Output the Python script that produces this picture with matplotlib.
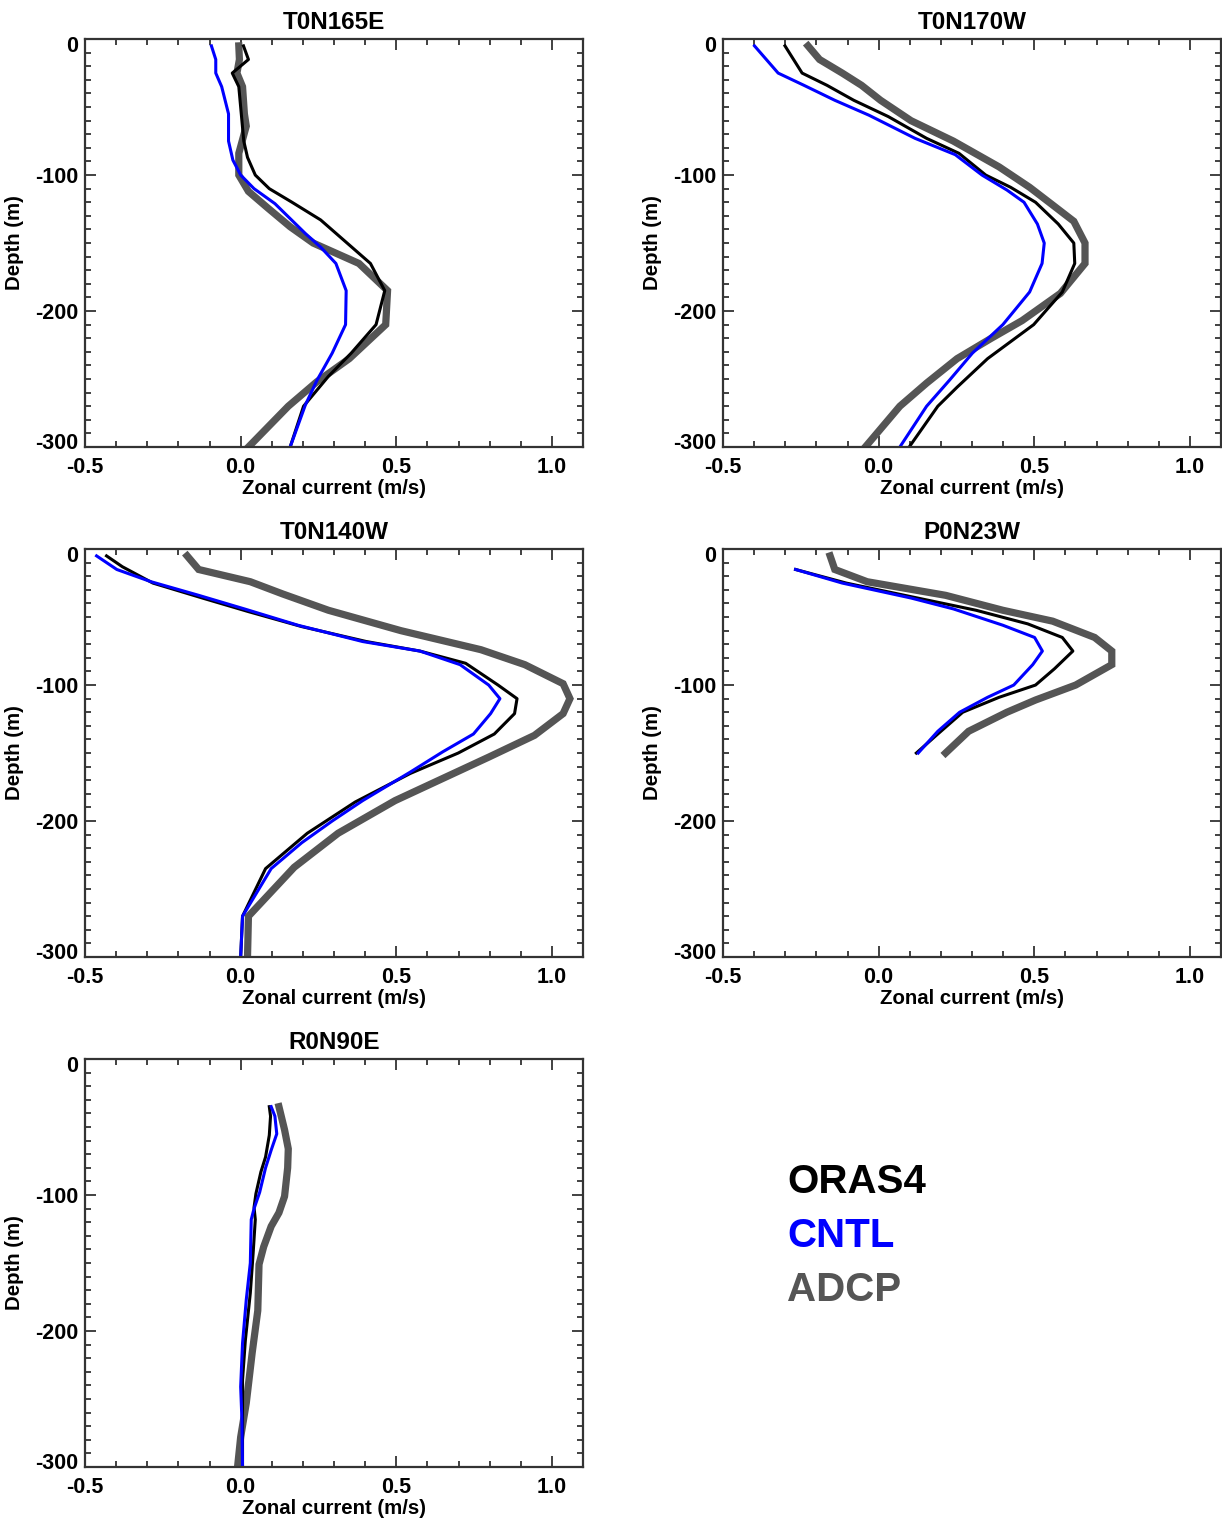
import matplotlib
matplotlib.use("Agg")
import matplotlib.pyplot as plt
import matplotlib.transforms as mtransforms
from matplotlib.ticker import MultipleLocator, FormatStrFormatter

plt.rcParams['font.family'] = ['Liberation Sans', 'DejaVu Sans']
plt.rcParams['font.weight'] = 'bold'
plt.rcParams['axes.unicode_minus'] = False

# ---- data (u in m/s, depth in m) ----
t165e_oras_u = [0.009, 0.025, -0.027, -0.006, 0.002, 0.010, 0.022, 0.047, 0.092, 0.165, 0.257, 0.337, 0.417, 0.463, 0.435, 0.355, 0.282, 0.202, 0.159]
t165e_oras_z = [-5, -15, -25, -35, -55, -75, -87, -100, -110, -120, -133, -149, -165, -185, -210, -231, -248, -270, -300]
t165e_cntl_u = [-0.094, -0.080, -0.080, -0.061, -0.039, -0.039, -0.025, 0.0, 0.043, 0.110, 0.208, 0.257, 0.306, 0.339, 0.337, 0.294, 0.245, 0.208, 0.159]
t165e_cntl_z = [-5, -15, -25, -35, -55, -75, -89, -100, -110, -121, -143, -153, -165, -185, -210, -231, -251, -269, -300]
t165e_adcp_u = [-0.006, -0.004, -0.012, 0.006, 0.012, 0.018, -0.006, -0.006, 0.025, 0.086, 0.159, 0.233, 0.380, 0.472, 0.466, 0.349, 0.245, 0.153, 0.025]
t165e_adcp_z = [-5, -15, -25, -35, -55, -64, -84, -100, -112, -124, -138, -150, -165, -185, -210, -235, -252, -270, -300]

t170w_oras_u = [-0.301, -0.246, -0.166, -0.080, 0.031, 0.154, 0.258, 0.344, 0.424, 0.504, 0.577, 0.627, 0.630, 0.590, 0.498, 0.350, 0.252, 0.190, 0.098]
t170w_oras_z = [-5, -25, -34, -45, -57, -73, -84, -100, -109, -120, -136, -150, -165, -186, -210, -235, -256, -270, -300]
t170w_cntl_u = [-0.399, -0.323, -0.240, -0.141, -0.031, 0.117, 0.246, 0.332, 0.412, 0.467, 0.510, 0.532, 0.525, 0.485, 0.399, 0.301, 0.227, 0.154, 0.068]
t170w_cntl_z = [-5, -25, -34, -45, -56, -73, -85, -100, -111, -120, -136, -150, -165, -186, -210, -231, -251, -270, -300]
t170w_adcp_u = [-0.227, -0.190, -0.117, -0.055, 0.006, 0.104, 0.240, 0.387, 0.485, 0.559, 0.627, 0.663, 0.663, 0.584, 0.461, 0.362, 0.252, 0.154, 0.068, -0.043]
t170w_adcp_z = [-5, -15, -25, -34, -45, -60, -75, -94, -109, -122, -134, -150, -165, -187, -207, -220, -235, -253, -270, -300]

t140w_oras_u = [-0.431, -0.380, -0.282, -0.123, 0.025, 0.196, 0.404, 0.576, 0.723, 0.827, 0.888, 0.880, 0.815, 0.699, 0.545, 0.368, 0.214, 0.080, 0.006, 0.0]
t140w_oras_z = [-5, -13, -25, -36, -46, -57, -68, -75, -84, -100, -110, -121, -136, -150, -165, -186, -209, -235, -270, -300]
t140w_cntl_u = [-0.463, -0.398, -0.288, -0.135, 0.012, 0.184, 0.392, 0.576, 0.705, 0.797, 0.833, 0.803, 0.748, 0.650, 0.545, 0.392, 0.294, 0.196, 0.098, 0.006, 0.0]
t140w_cntl_z = [-5, -15, -24, -34, -44, -56, -68, -75, -85, -100, -110, -121, -136, -149, -164, -185, -200, -216, -235, -270, -300]
t140w_adcp_u = [-0.172, -0.135, 0.031, 0.135, 0.282, 0.515, 0.772, 0.913, 1.036, 1.058, 1.036, 0.944, 0.797, 0.637, 0.496, 0.313, 0.172, 0.025, 0.022]
t140w_adcp_z = [-5, -15, -24, -33, -45, -60, -74, -85, -99, -110, -121, -137, -153, -170, -185, -209, -234, -270, -300]

p23w_oras_u = [-0.267, -0.104, 0.104, 0.313, 0.479, 0.590, 0.624, 0.565, 0.504, 0.387, 0.270, 0.190, 0.121]
p23w_oras_z = [-15, -25, -35, -45, -55, -65, -75, -88, -100, -109, -120, -136, -150]
p23w_cntl_u = [-0.267, -0.117, 0.104, 0.240, 0.399, 0.501, 0.526, 0.495, 0.434, 0.350, 0.260, 0.190, 0.127]
p23w_cntl_z = [-15, -25, -36, -44, -56, -65, -75, -85, -100, -109, -120, -134, -150]
p23w_adcp_u = [-0.156, -0.141, -0.037, 0.215, 0.399, 0.559, 0.694, 0.749, 0.749, 0.633, 0.504, 0.412, 0.289, 0.215]
p23w_adcp_z = [-5, -15, -24, -34, -45, -53, -65, -75, -85, -100, -111, -120, -134, -150]

r90e_oras_u = [0.092, 0.096, 0.092, 0.080, 0.065, 0.049, 0.043, 0.047, 0.040, 0.031, 0.015, 0.006, 0.006, 0.006]
r90e_oras_z = [-35, -42, -56, -72, -83, -99, -109, -118, -143, -172, -207, -236, -265, -300]
r90e_cntl_u = [0.098, 0.110, 0.116, 0.098, 0.080, 0.061, 0.043, 0.034, 0.031, 0.018, 0.006, 0.0, 0.004, 0.006]
r90e_cntl_z = [-35, -42, -55, -67, -80, -98, -110, -118, -150, -177, -209, -241, -265, -300]
r90e_adcp_u = [0.123, 0.141, 0.153, 0.151, 0.141, 0.123, 0.098, 0.074, 0.059, 0.055, 0.037, 0.018, 0.0, -0.010]
r90e_adcp_z = [-35, -52, -66, -80, -101, -113, -123, -138, -151, -185, -216, -253, -278, -300]

stations = ['T0N165E', 'T0N170W', 'T0N140W', 'P0N23W', 'R0N90E']
oras = [(t165e_oras_u, t165e_oras_z), (t170w_oras_u, t170w_oras_z), (t140w_oras_u, t140w_oras_z),
        (p23w_oras_u, p23w_oras_z), (r90e_oras_u, r90e_oras_z)]
cntl = [(t165e_cntl_u, t165e_cntl_z), (t170w_cntl_u, t170w_cntl_z), (t140w_cntl_u, t140w_cntl_z),
        (p23w_cntl_u, p23w_cntl_z), (r90e_cntl_u, r90e_cntl_z)]
adcp = [(t165e_adcp_u, t165e_adcp_z), (t170w_adcp_u, t170w_adcp_z), (t140w_adcp_u, t140w_adcp_z),
        (p23w_adcp_u, p23w_adcp_z), (r90e_adcp_u, r90e_adcp_z)]

gray = '#555555'
fig = plt.figure(figsize=(12.22, 15.21), dpi=100)

# axes boxes in figure fractions (left, bottom, width, height)
lefts = [0.0696, 0.5917]
bottoms = [0.7061, 0.3708, 0.0355]
w, h = 0.4075, 0.2682
positions = [(lefts[0], bottoms[0]), (lefts[1], bottoms[0]),
             (lefts[0], bottoms[1]), (lefts[1], bottoms[1]),
             (lefts[0], bottoms[2])]

axes = []
for i, name in enumerate(stations):
    ax = fig.add_axes([positions[i][0], positions[i][1], w, h])
    ax.plot(adcp[i][0], adcp[i][1], color=gray, lw=5.2, solid_joinstyle='miter')
    ax.plot(oras[i][0], oras[i][1], color='black', lw=2.2)
    ax.plot(cntl[i][0], cntl[i][1], color='#0000ff', lw=2.2)
    ax.set_xlim(-0.5, 1.1)
    ax.set_ylim(-300, 0)
    ax.xaxis.set_major_locator(MultipleLocator(0.5))
    ax.xaxis.set_minor_locator(MultipleLocator(0.1))
    ax.yaxis.set_major_locator(MultipleLocator(100))
    ax.yaxis.set_minor_locator(MultipleLocator(10))
    ax.xaxis.set_major_formatter(FormatStrFormatter('%.1f'))
    ax.tick_params(which='both', direction='in', top=True, right=True,
                   color='#333333', labelsize=15.5, width=1.3)
    ax.tick_params(which='major', length=8)
    ax.tick_params(which='minor', length=4.5)
    ax.tick_params(axis='x', which='major', pad=7)
    ax.tick_params(axis='y', which='major', pad=5)
    for s in ax.spines.values():
        s.set_color('#333333')
        s.set_linewidth(1.6)
    ax.set_title(name, fontsize=17.5, fontweight='bold', pad=7)
    ax.set_xlabel('Zonal current (m/s)', fontsize=14.7, fontweight='bold', labelpad=1)
    ax.set_ylabel('Depth (m)', fontsize=14.7, fontweight='bold', labelpad=8)
    axes.append(ax)

fig.text(0.644, 0.2229, 'ORAS4', color='black', fontsize=29, fontweight='bold', va='center')
fig.text(0.644, 0.1874, 'CNTL', color='#0000ff', fontsize=29, fontweight='bold', va='center')
fig.text(0.644, 0.1519, 'ADCP', color=gray, fontsize=29, fontweight='bold', va='center')

# end labels (0 and -300) sit a few pixels inside the axis range, as in the original
fig.canvas.draw()
down = mtransforms.ScaledTranslation(0, -0.05, fig.dpi_scale_trans)
up = mtransforms.ScaledTranslation(0, 0.06, fig.dpi_scale_trans)
for ax in axes:
    for tick in ax.yaxis.get_major_ticks():
        v = tick.get_loc()
        if abs(v) < 1e-6:
            tick.label1.set_transform(tick.label1.get_transform() + down)
        elif abs(v + 300) < 1e-6:
            tick.label1.set_transform(tick.label1.get_transform() + up)

fig.savefig('out.png', dpi=100)
